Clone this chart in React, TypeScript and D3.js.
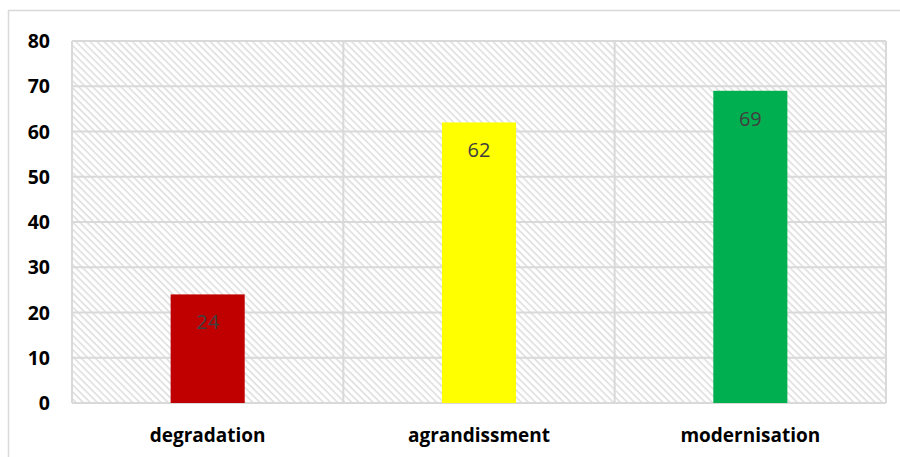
import { useEffect, useRef } from "react";
import * as d3 from "d3";

const categories = ["degradation", "agrandissment", "modernisation"];
const values = [24, 62, 69];
const colors = ["#c00000", "#ffff00", "#00b050"];
const yTicks = [0, 10, 20, 30, 40, 50, 60, 70, 80];

const App = () => {
    const svgRef: any = useRef<SVGSVGElement>(null);

    useEffect(() => {
        const WIDTH = 900;
        const HEIGHT = 457;
        const margin = { top: 41, right: 14, bottom: 54, left: 72 };

        const svg = d3.select(svgRef.current);
        svg.selectAll("*").remove();

        const defs = svg.append("defs");
        const pat = defs
            .append("pattern")
            .attr("id", "hatch")
            .attr("patternUnits", "userSpaceOnUse")
            .attr("width", 5)
            .attr("height", 5)
            .attr("patternTransform", "rotate(45)");
        pat.append("rect").attr("width", 5).attr("height", 5).attr("fill", "#ffffff");
        pat.append("line")
            .attr("x1", 0).attr("y1", 0).attr("x2", 5).attr("y2", 0)
            .attr("stroke", "#dcdcdc")
            .attr("stroke-width", 3);

        // outer chart frame (clipped by window at right/bottom)
        svg.append("rect")
            .attr("x", 8.5).attr("y", 10.5)
            .attr("width", 900).attr("height", 460)
            .attr("fill", "#ffffff")
            .attr("stroke", "#d9d9d9")
            .attr("stroke-width", 1.5);

        const x = d3.scaleBand()
            .domain(categories)
            .range([margin.left, WIDTH - margin.right]);

        const y = d3.scaleLinear()
            .domain([0, 80])
            .range([HEIGHT - margin.bottom, margin.top]);

        const plotW = WIDTH - margin.right - margin.left;
        const plotH = HEIGHT - margin.bottom - margin.top;

        svg.append("rect")
            .attr("x", margin.left).attr("y", margin.top)
            .attr("width", plotW).attr("height", plotH)
            .attr("fill", "url(#hatch)");

        // horizontal gridlines
        svg.append("g")
            .selectAll("line")
            .data(yTicks)
            .join("line")
            .attr("x1", margin.left).attr("x2", WIDTH - margin.right)
            .attr("y1", d => y(d)).attr("y2", d => y(d))
            .attr("stroke", "#d9d9d9")
            .attr("stroke-width", 2);

        // vertical gridlines at category boundaries
        const bounds = categories.map(c => x(c) as number).concat([WIDTH - margin.right]);
        svg.append("g")
            .selectAll("line")
            .data(bounds)
            .join("line")
            .attr("x1", d => d).attr("x2", d => d)
            .attr("y1", margin.top).attr("y2", HEIGHT - margin.bottom)
            .attr("stroke", "#d9d9d9")
            .attr("stroke-width", 2);

        const barW = x.bandwidth() * 0.273;

        svg.append("g")
            .selectAll("rect")
            .data(values)
            .join("rect")
            .attr("x", (d, i) => (x(categories[i]) as number) + x.bandwidth() / 2 - barW / 2)
            .attr("y", d => y(d))
            .attr("width", barW)
            .attr("height", d => y(0) - y(d))
            .attr("fill", (d, i) => colors[i]);

        svg.append("g")
            .selectAll("text")
            .data(values)
            .join("text")
            .attr("x", (d, i) => (x(categories[i]) as number) + x.bandwidth() / 2)
            .attr("y", d => y(d) + 35)
            .attr("text-anchor", "middle")
            .attr("font-family", "'Open Sans', sans-serif")
            .attr("font-size", 20)
            .attr("fill", "#404040")
            .text(d => d);

        // y tick labels
        svg.append("g")
            .selectAll("text")
            .data(yTicks)
            .join("text")
            .attr("x", 50)
            .attr("y", d => y(d))
            .attr("dy", "0.36em")
            .attr("text-anchor", "end")
            .attr("font-family", "'Open Sans', sans-serif")
            .attr("font-weight", "bold")
            .attr("font-size", 19.5)
            .attr("fill", "#000000")
            .text(d => d);

        // category labels
        svg.append("g")
            .selectAll("text")
            .data(categories)
            .join("text")
            .attr("x", d => (x(d) as number) + x.bandwidth() / 2)
            .attr("y", 442)
            .attr("text-anchor", "middle")
            .attr("font-family", "'Open Sans', sans-serif")
            .attr("font-weight", "bold")
            .attr("font-size", 19)
            .attr("fill", "#000000")
            .text(d => d);
    }, []);

    return (
        <svg
            ref={svgRef}
            width={900}
            height={457}
            style={{ position: "absolute", left: 0, top: 0, display: "block" }}
        />
    );
};

export default App;
